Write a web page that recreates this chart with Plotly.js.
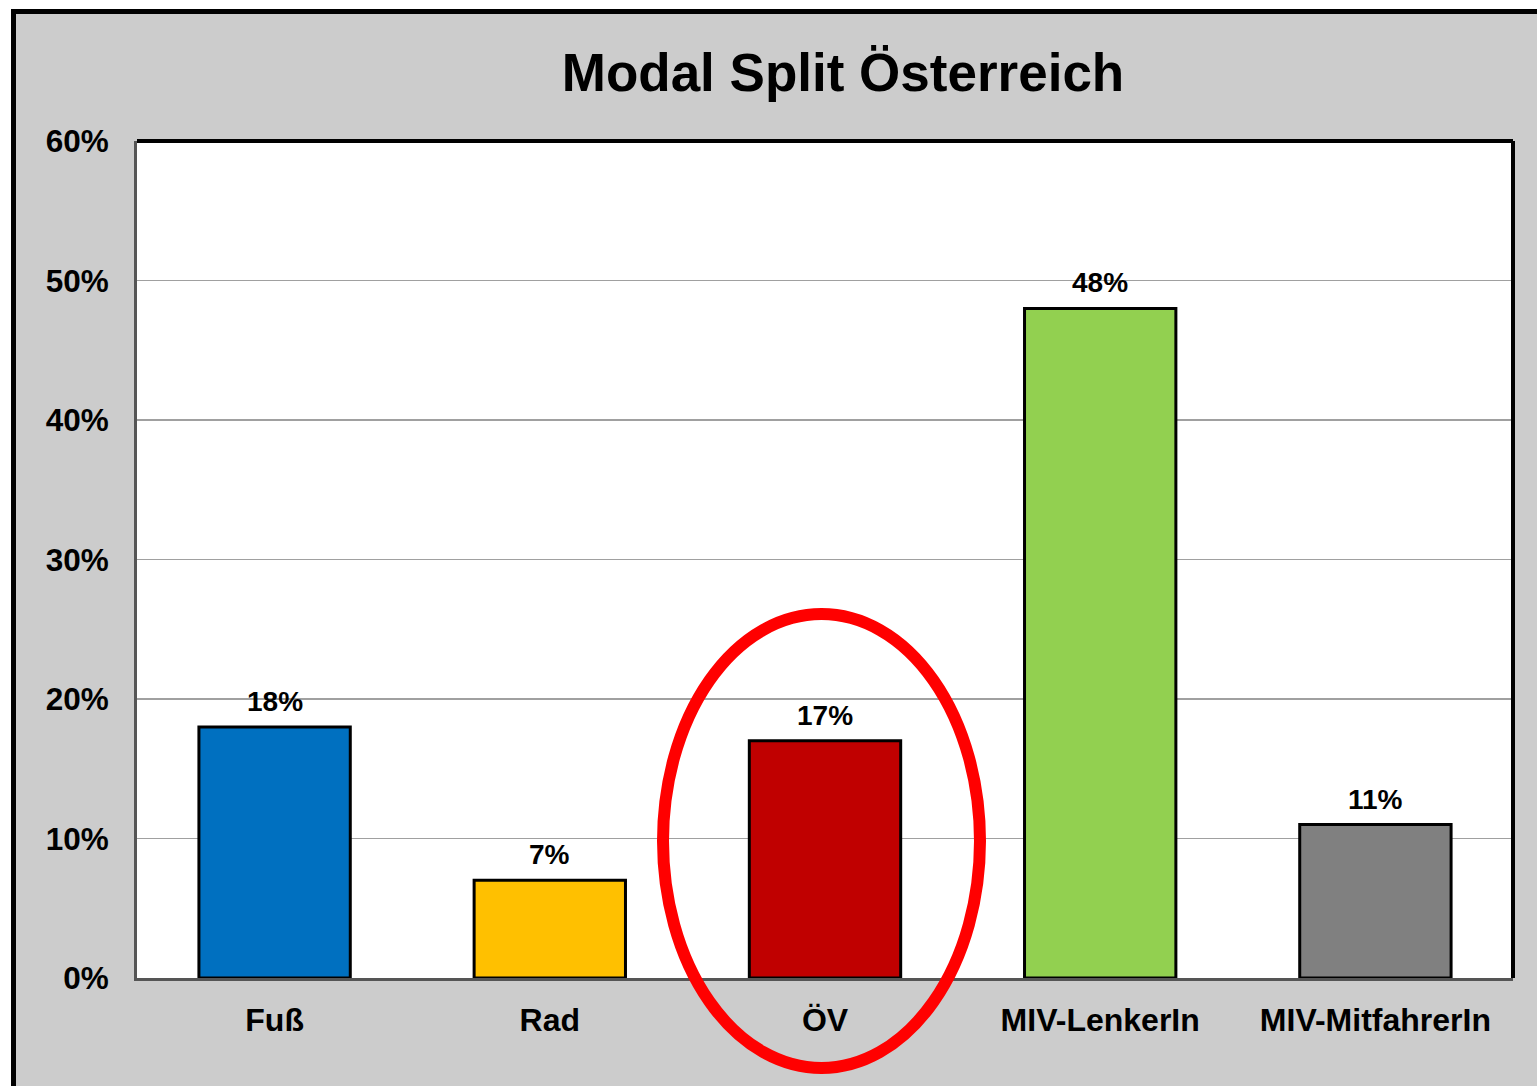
<!DOCTYPE html>
<html>
<head>
<meta charset="utf-8">
<script src="https://cdn.plot.ly/plotly-3.0.1.min.js"></script>
<style>html,body{margin:0;padding:0;background:#fff;}#chart{width:1537px;height:1086px;}</style>
</head>
<body>
<div id="chart"></div>
<script>
// Data
const categories = ["Fuß", "Rad", "ÖV", "MIV-LenkerIn", "MIV-MitfahrerIn"];
const shares = [0.18, 0.07, 0.17, 0.48, 0.11];
const barColors = ["#0070C0", "#FFC000", "#C00000", "#92D050", "#808080"];
const yTickVals = [0, 0.1, 0.2, 0.3, 0.4, 0.5, 0.6];
const yTickText = ["0%", "10%", "20%", "30%", "40%", "50%", "60%"];
const titleText = "Modal Split Österreich";
const highlighted = "ÖV";

const W = 1537, H = 1086;
const M = {l: 137, r: 24, t: 141, b: 108};
const PW = W - M.l - M.r, PH = H - M.t - M.b;
const px = v => (v - M.l) / PW;
const py = v => (H - M.b - v) / PH;

const FONT = "Liberation Sans, Arial, Helvetica, sans-serif";

const trace = {
  type: "bar",
  x: categories,
  y: shares,
  marker: {color: barColors, line: {color: "#000000", width: 3}},
  hoverinfo: "skip"
};

const annotations = categories.map((c, i) => ({
  x: c, y: shares[i], xref: "x", yref: "y",
  text: Math.round(shares[i] * 100) + "%",
  showarrow: false, yanchor: "bottom", yshift: 8,
  font: {family: FONT, size: 28, color: "#000", weight: "bold"}
}));

const shapes = [
  // white page margin strips
  {type: "rect", xref: "paper", yref: "paper", x0: px(-20), x1: px(11), y0: py(H + 20), y1: py(-20), fillcolor: "#ffffff", line: {width: 0}, layer: "below"},
  {type: "rect", xref: "paper", yref: "paper", x0: px(-20), x1: px(W + 20), y0: py(9), y1: py(-20), fillcolor: "#ffffff", line: {width: 0}, layer: "below"},
  // outer black frame (left & top)
  {type: "line", xref: "paper", yref: "paper", x0: px(13.5), x1: px(13.5), y0: py(9), y1: py(H + 20), line: {color: "#000", width: 5}},
  {type: "line", xref: "paper", yref: "paper", x0: px(11), x1: px(W + 20), y0: py(11.5), y1: py(11.5), line: {color: "#000", width: 5}},
  // plot frame top & right
  {type: "line", xref: "paper", yref: "paper", x0: 0, x1: 1, y0: 1, y1: 1, line: {color: "#000", width: 4}},
  {type: "line", xref: "paper", yref: "paper", x0: 1, x1: 1, y0: 0, y1: 1, line: {color: "#000", width: 4}},
  // red highlight ellipse around ÖV
  {type: "circle", xref: "paper", yref: "paper", x0: px(663), x1: px(980), y0: py(1068), y1: py(614), line: {color: "#FF0000", width: 12}, fillcolor: "rgba(0,0,0,0)", layer: "above"}
];

const layout = {
  width: W, height: H,
  margin: M,
  paper_bgcolor: "#CCCCCC",
  plot_bgcolor: "#FFFFFF",
  showlegend: false,
  bargap: 0.45,
  title: {
    text: titleText,
    x: 843 / W, xref: "container", xanchor: "center",
    y: 1 - 72 / H, yref: "container", yanchor: "middle",
    font: {family: FONT, size: 53, color: "#000", weight: "bold"}
  },
  xaxis: {
    type: "category",
    showgrid: false,
    showline: true, linecolor: "#555555", linewidth: 3,
    ticks: "", ticklabelstandoff: 12,
    tickfont: {family: FONT, size: 32, color: "#000", weight: "bold"},
    fixedrange: true
  },
  yaxis: {
    range: [0, 0.6],
    tickvals: yTickVals, ticktext: yTickText,
    showgrid: true, gridcolor: "#A0A0A0", gridwidth: 1.5,
    zeroline: false,
    showline: true, linecolor: "#555555", linewidth: 3,
    ticks: "", ticklabelstandoff: 19,
    tickfont: {family: FONT, size: 31.5, color: "#000", weight: "bold"},
    fixedrange: true
  },
  annotations: annotations,
  shapes: shapes
};

Plotly.newPlot("chart", [trace], layout, {displayModeBar: false, staticPlot: true});
</script>
</body>
</html>
